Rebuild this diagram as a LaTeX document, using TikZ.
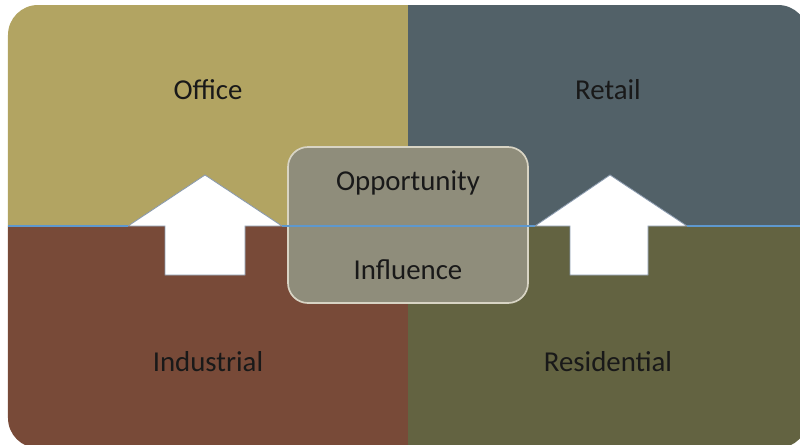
\documentclass[tikz,border=0pt]{standalone}
\usepackage{fontspec}
\setmainfont{Carlito}
\usepackage{tikz}

\definecolor{office}{HTML}{B2A462}
\definecolor{retail}{HTML}{526168}
\definecolor{industrial}{HTML}{784A38}
\definecolor{residential}{HTML}{636341}
\definecolor{rule}{HTML}{5E98CE}
\definecolor{edge}{HTML}{8A9AAE}
\definecolor{corefill}{HTML}{8F8D7B}
\definecolor{coreedge}{HTML}{D8D4C4}

\tikzset{
  label/.style={font=\fontsize{20.5}{24}\selectfont, text=black!90},
  upshape/.style={fill=white, draw=edge, line width=0.6pt, line join=miter},
  core/.style={draw=coreedge, line width=1.2pt, fill=corefill,
               rounded corners=0.5cm, minimum width=6cm, minimum height=3.9cm}
}

\begin{document}
\begin{tikzpicture}
                \useasboundingbox (0, 0) rectangle (20, 11.1);

                \begin{scope}
                \clip [rounded corners=0.75cm] (0.2, -0.1) rectangle (20.2, 10.975);
                \fill [office] (0, 5.45) rectangle (10.2, 11.1);
                \fill [retail] (10.2, 5.45) rectangle (20.2, 11.1);
                \fill [industrial] (0, -0.1) rectangle (10.2, 5.45);
                \fill [residential] (10.2, -0.1) rectangle (20.2, 5.45);
                \end{scope}

                \draw [upshape] (5.125, 6.725) to (7.05, 5.45) to (6.125, 5.45) to (6.125, 4.225)
                    to (4.125, 4.225) to (4.125, 5.45) to (3.2, 5.45) -- cycle;
                \draw [upshape] (15.25, 6.725) to (17.175, 5.45) to (16.2, 5.45) to (16.2, 4.225)
                    to (14.25, 4.225) to (14.25, 5.45) to (13.375, 5.45) -- cycle;

                \node [core] (hub) at (10.2, 5.475) {};

                \coordinate (west) at (0.2, 5.45);
                \coordinate (east) at (20, 5.45);
                \draw [rule, line width=1.1pt] (west) -- (3.2, 5.45);
                \draw [rule, line width=1.1pt] (7.05, 5.45) -- (13.375, 5.45);
                \draw [rule, line width=1.1pt] (17.175, 5.45) -- (east);

                \node [label] (office) at (5.2, 8.85) {Office};
                \node [label] (retail) at (15.2, 8.85) {Retail};
                \node [label] (industrial) at (5.2, 2.05) {Industrial};
                \node [label] (residential) at (15.2, 2.05) {Residential};
                \node [label] (opportunity) at (10.2, 6.525) {Opportunity};
                \node [label] (influence) at (10.2, 4.35) {Influence};
            \end{tikzpicture}
\end{document}
